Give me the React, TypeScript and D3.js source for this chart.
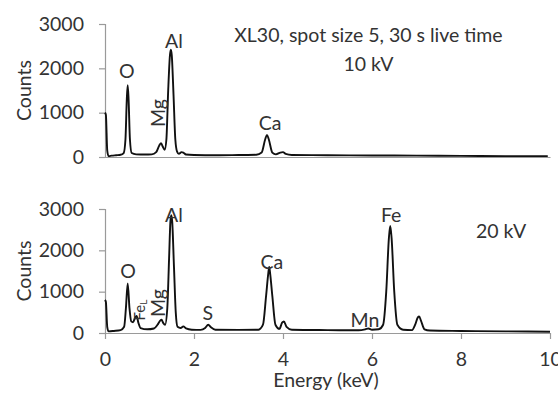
import { useRef, useEffect } from 'react';
import * as d3 from 'd3';

// 10 kV spectrum (keV, counts)
const energy10 = [0, 0.02, 0.05, 0.08, 0.15, 0.25, 0.35, 0.42, 0.46, 0.49, 0.51, 0.53, 0.56, 0.6, 0.7, 0.9, 1.05, 1.15, 1.22, 1.26, 1.3, 1.34, 1.38, 1.42, 1.46, 1.48, 1.5, 1.54, 1.58, 1.62, 1.66, 1.72, 1.76, 1.82, 2.0, 2.5, 3.0, 3.4, 3.52, 3.6, 3.64, 3.68, 3.76, 3.84, 3.94, 4.0, 4.06, 4.2, 5.0, 6.0, 7.0, 8.0, 9.0, 9.95];
const counts10 = [1000, 950, 150, 20, 30, 40, 50, 90, 400, 1300, 1620, 1300, 400, 90, 60, 55, 60, 110, 260, 310, 230, 160, 400, 1500, 2300, 2420, 2300, 1400, 400, 120, 70, 110, 100, 55, 45, 40, 45, 50, 100, 400, 500, 400, 100, 60, 100, 110, 70, 45, 40, 35, 30, 25, 20, 20];

// 20 kV spectrum
const energy20 = [0, 0.02, 0.05, 0.08, 0.2, 0.35, 0.43, 0.47, 0.51, 0.55, 0.59, 0.63, 0.68, 0.71, 0.75, 0.8, 0.95, 1.1, 1.18, 1.24, 1.27, 1.31, 1.35, 1.4, 1.44, 1.47, 1.49, 1.51, 1.55, 1.59, 1.63, 1.7, 1.76, 1.82, 1.95, 2.15, 2.25, 2.32, 2.38, 2.48, 3.0, 3.45, 3.55, 3.62, 3.67, 3.69, 3.71, 3.76, 3.83, 3.92, 3.98, 4.02, 4.08, 4.2, 5.0, 5.7, 5.85, 5.92, 6.0, 6.15, 6.25, 6.32, 6.38, 6.41, 6.44, 6.5, 6.57, 6.7, 6.9, 6.97, 7.03, 7.06, 7.1, 7.18, 7.3, 8.0, 9.0, 10.0];
const counts20 = [800, 750, 150, 40, 50, 70, 150, 600, 1200, 600, 280, 260, 380, 410, 250, 120, 90, 110, 200, 300, 320, 240, 200, 600, 1800, 2700, 2850, 2700, 1600, 500, 150, 120, 160, 110, 80, 75, 120, 200, 140, 80, 75, 80, 200, 900, 1450, 1600, 1450, 900, 200, 100, 250, 280, 150, 80, 70, 65, 90, 110, 80, 90, 200, 1000, 2300, 2590, 2300, 1000, 200, 80, 70, 200, 380, 400, 300, 90, 60, 50, 40, 30];

const xTicks = [0, 2, 4, 6, 8, 10];
const yTicks = [0, 1000, 2000, 3000];

// peak labels: [text, keV, counts, rotated]
const labels10: [string, number, number, boolean][] = [
  ['O', 0.49, 1780, false],
  ['Mg', 1.19, 990, true],
  ['Al', 1.55, 2460, false],
  ['Ca', 3.71, 610, false],
  ['XL30, spot size 5, 30 s live time', 5.92, 2594, false],
  ['10 kV', 5.92, 1940, false],
];
const labels20: [string, number, number, boolean][] = [
  ['O', 0.52, 1330, false],
  ['Mg', 1.19, 726, true],
  ['Al', 1.55, 2686, false],
  ['S', 2.31, 315, false],
  ['Ca', 3.75, 1549, false],
  ['Mn', 5.84, 145, false],
  ['Fe', 6.43, 2686, false],
  ['20 kV', 8.9, 2299, false],
];

export default function App() {
  const svgRef = useRef<SVGSVGElement>(null);

  useEffect(() => {
    if (!svgRef.current) return;
    const svg = d3.select(svgRef.current);
    svg.selectAll('*').remove();
    const font = 'Lato, "Open Sans", sans-serif';
    const fs = 19.5;
    const txt = '#333';
    const axisCol = '#9a9a9a';

    const x = d3.scaleLinear().domain([0, 10]).range([105, 550]);
    const panels = [
      { e: energy10, c: counts10, y: d3.scaleLinear().domain([0, 3000]).range([157, 24]), labels: labels10, xAxis: false, fe: false },
      { e: energy20, c: counts20, y: d3.scaleLinear().domain([0, 3000]).range([333, 209]), labels: labels20, xAxis: true, fe: true },
    ];

    panels.forEach(p => {
      const g = svg.append('g');
      // y axis
      const ya = g.append('g').attr('transform', `translate(${x(0)},0)`)
        .call(d3.axisLeft(p.y).tickValues(yTicks).tickSize(6).tickPadding(15).tickFormat(d3.format('d')));
      ya.select('.domain').attr('stroke', axisCol).attr('stroke-width', 1.2);
      ya.selectAll('line').attr('stroke', axisCol).attr('stroke-width', 1.2);
      ya.selectAll('text').attr('fill', txt).style('font-family', font).style('font-size', `${fs}px`);

      // x axis
      const xa = g.append('g').attr('transform', `translate(0,${p.y(0)})`)
        .call(d3.axisBottom(x).tickValues(p.xAxis ? xTicks : []).tickSize(p.xAxis ? 6 : 0).tickSizeOuter(0).tickPadding(13));
      xa.select('.domain').attr('stroke', axisCol).attr('stroke-width', 1.2);
      xa.selectAll('line').attr('stroke', axisCol).attr('stroke-width', 1.2);
      xa.selectAll('text').attr('fill', txt).style('font-family', font).style('font-size', `${fs}px`);

      // spectrum
      const line = d3.line<number>()
        .x((_, i) => x(p.e[i]))
        .y(d => p.y(d))
        .curve(d3.curveMonotoneX);
      g.append('path').attr('d', line(p.c)).attr('fill', 'none').attr('stroke', '#111').attr('stroke-width', 1.9);

      // y label
      const ymid = (p.y(0) + p.y(3000)) / 2;
      g.append('text').attr('transform', `translate(23,${ymid}) rotate(-90)`)
        .attr('text-anchor', 'middle').attr('dominant-baseline', 'central')
        .attr('fill', txt).style('font-family', font).style('font-size', `${fs}px`).text('Counts');

      // peak labels
      p.labels.forEach(([t, e, c, rot]) => {
        const t0 = g.append('text').attr('fill', txt).style('font-family', font).style('font-size', `${fs}px`).attr('text-anchor', 'middle');
        if (rot) {
          t0.attr('transform', `translate(${x(e)},${p.y(c)}) rotate(-90)`).attr('dominant-baseline', 'central').text(t);
        } else {
          t0.attr('x', x(e)).attr('y', p.y(c)).text(t);
        }
      });

      if (p.fe) {
        const t1 = g.append('text').attr('transform', `translate(${x(0.76)},${p.y(556)}) rotate(-90)`)
          .attr('text-anchor', 'middle').attr('dominant-baseline', 'central')
          .attr('fill', txt).style('font-family', font).style('font-size', '15px');
        t1.append('tspan').text('Fe');
        t1.append('tspan').attr('font-size', '10px').attr('dy', 4).text('L');
      }
    });

    svg.append('text').attr('x', 326).attr('y', 387).attr('text-anchor', 'middle')
      .attr('fill', txt).style('font-family', font).style('font-size', `${fs}px`).text('Energy (keV)');
  }, []);

  return (
    <svg ref={svgRef} width={558} height={399} viewBox="0 0 558 399"
      style={{ position: 'absolute', left: 0, top: 0, background: '#fff' }} />
  );
}
